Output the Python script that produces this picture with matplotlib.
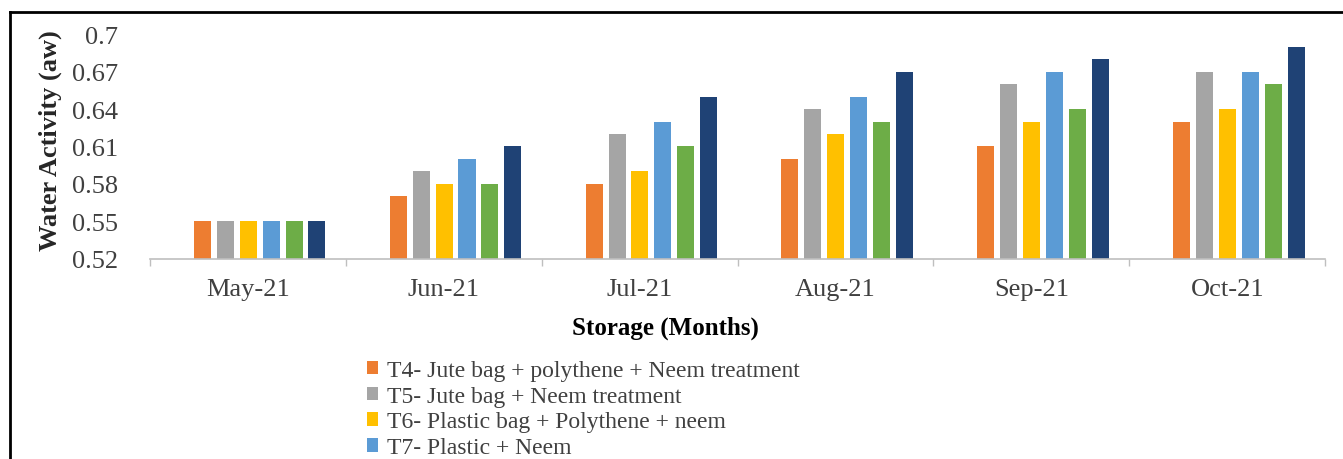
import matplotlib
matplotlib.use("Agg")
import matplotlib.pyplot as plt
from matplotlib.lines import Line2D
from matplotlib.patches import Patch
import numpy as np

months = ["May-21", "Jun-21", "Jul-21", "Aug-21", "Sep-21", "Oct-21"]
series_names = [
    "T4- Jute bag + polythene + Neem treatment",
    "T5- Jute bag + Neem treatment",
    "T6- Plastic bag + Polythene + neem",
    "T7- Plastic + Neem",
]
t4 = [0.55, 0.57, 0.58, 0.60, 0.61, 0.63]
t5 = [0.55, 0.59, 0.62, 0.64, 0.66, 0.67]
t6 = [0.55, 0.58, 0.59, 0.62, 0.63, 0.64]
t7 = [0.55, 0.60, 0.63, 0.65, 0.67, 0.67]
t8 = [0.55, 0.58, 0.61, 0.63, 0.64, 0.66]
t9 = [0.55, 0.61, 0.65, 0.67, 0.68, 0.69]
yticks = [0.52, 0.55, 0.58, 0.61, 0.64, 0.67, 0.70]
ytick_labels = ["0.52", "0.55", "0.58", "0.61", "0.64", "0.67", "0.7"]

colors = ["#ED7D31", "#A5A5A5", "#FFC000", "#5B9BD5", "#6DAD47", "#1F4275"]
data = [t4, t5, t6, t7, t8, t9]

plt.rcParams["font.family"] = ["Liberation Serif", "DejaVu Serif"]

fig = plt.figure(figsize=(13.43, 4.6), dpi=100)
ax = fig.add_axes([0.1117, 0.4348, 0.875, 0.4891])

x = np.arange(len(months))
slot = 0.117
width = 0.087
shift = 0.06
for i, (vals, c) in enumerate(zip(data, colors)):
    ax.bar(x + shift + (i - 2.5) * slot, vals, width=width, color=c, zorder=2)

ax.set_xlim(-0.5, len(months) - 0.5)
ax.set_ylim(0.52, 0.70)
ax.set_yticks(yticks)
ax.set_yticklabels(ytick_labels, fontsize=19, color="#404040")
ax.set_xticks(x)
ax.set_xticklabels(months, fontsize=19, color="#404040")
ax.tick_params(axis="y", length=0, pad=23)
ax.tick_params(axis="x", length=0, pad=14)

# category boundary ticks hanging below the baseline
ax.set_xticks(np.arange(-0.5, len(months)), minor=True)
ax.tick_params(axis="x", which="minor", length=5, color="#BFBFBF", width=1)

for s in ["left", "right", "top"]:
    ax.spines[s].set_visible(False)
ax.spines["bottom"].set_color("#BFBFBF")
ax.spines["bottom"].set_linewidth(1.2)

ax.set_ylabel("Water Activity (aw)", fontsize=19, fontweight="bold",
              color="#262626")
ax.yaxis.set_label_coords(-0.075, 0.53)
fig.text(665 / 1343, 1 - 328 / 460, "Storage (Months)", fontsize=18,
         fontweight="bold", color="#000000", ha="center", va="center")

handles = [Patch(facecolor=c, edgecolor="none") for c in colors[:4]]
fig.legend(handles, series_names, loc="upper left",
           bbox_to_anchor=(0.273, 1 - 361 / 460), frameon=False, fontsize=17,
           handlelength=0.5, handleheight=0.5, handletextpad=0.35,
           labelspacing=0.2, borderpad=0, borderaxespad=0,
           labelcolor="#404040")

# outer frame
fig.add_artist(Line2D([10 / 1343, 10 / 1343], [-0.05, 1 - 13 / 460],
                      color="black", lw=2, transform=fig.transFigure))
fig.add_artist(Line2D([10 / 1343, 1.01], [1 - 13 / 460, 1 - 13 / 460],
                      color="black", lw=2, transform=fig.transFigure))

fig.savefig("out.png", dpi=100)
